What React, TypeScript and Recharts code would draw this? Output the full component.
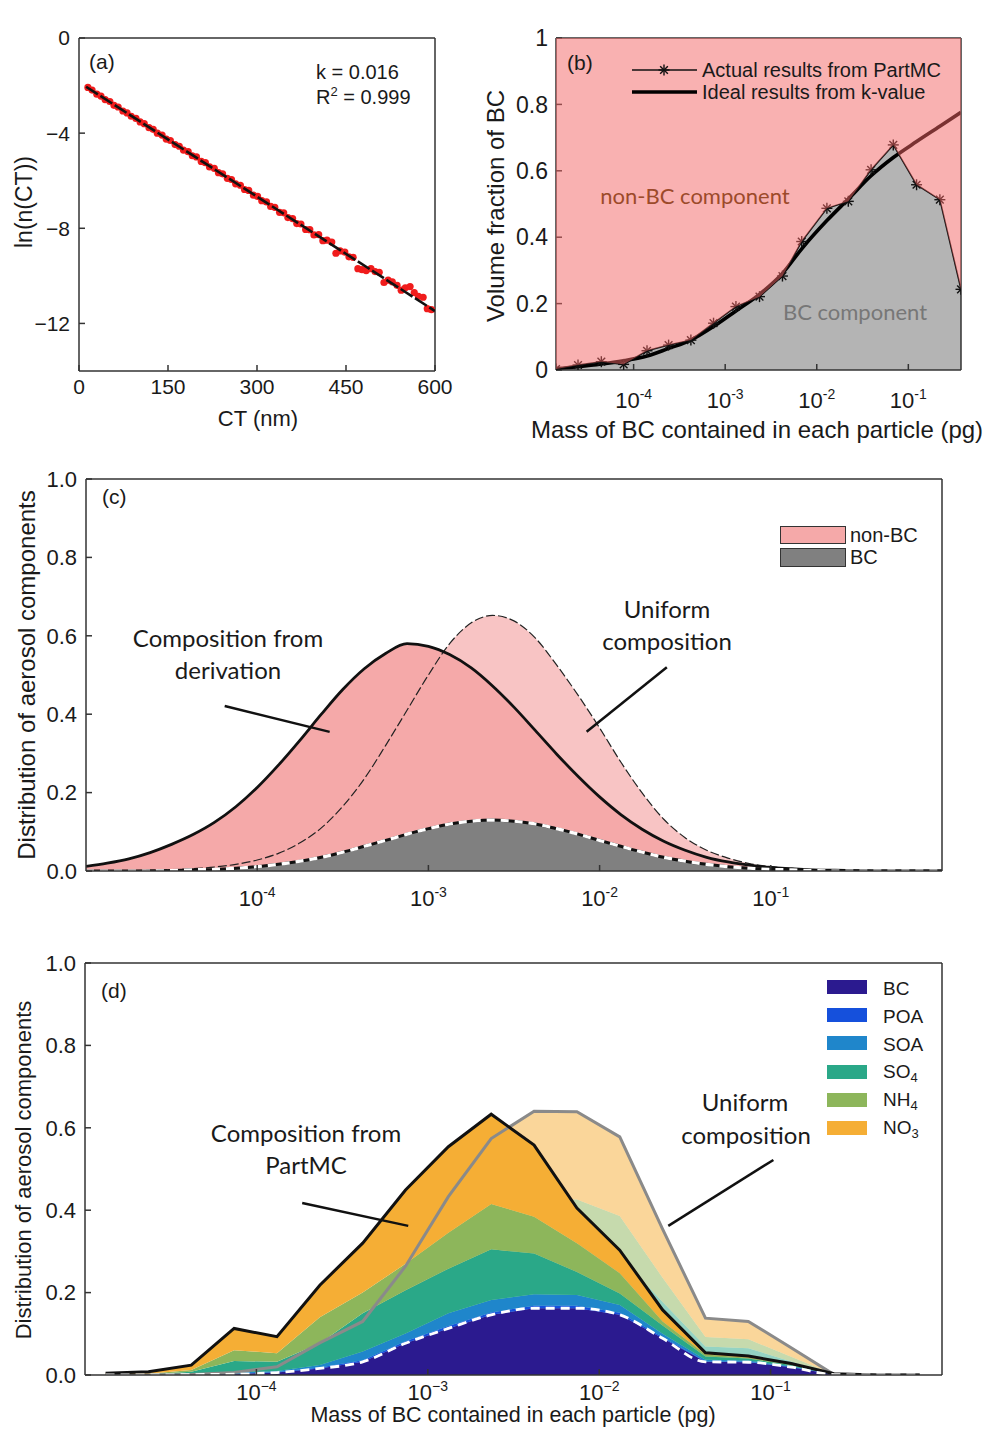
import React from 'react';
import { ComposedChart, Area, Line, Scatter, XAxis, YAxis, ReferenceLine } from 'recharts';

const ARIAL = '"Liberation Sans", Arial, sans-serif';
const CALIBRI = 'Lato, "Open Sans", sans-serif';
const TXT = '#1a1a1a';
const AX = '#333';

// (a) ln(n(CT)) vs CT
const ctValues = [15, 22, 30, 37, 44, 52, 59, 66, 74, 81, 88, 96, 103, 110, 118, 125, 132, 140, 147, 154,
  162, 169, 176, 184, 191, 198, 206, 213, 220, 228, 235, 242, 250, 257, 264, 272, 279, 286, 294, 301,
  308, 316, 323, 330, 338, 345, 352, 360, 367, 374, 382, 389, 396, 404, 411, 418, 426, 433, 440, 448,
  455, 462, 470, 477, 484, 492, 499, 506, 514, 521, 528, 536, 543, 550, 558, 565, 572, 580, 587, 594];
const lnValues = [-2.08, -2.19, -2.36, -2.44, -2.59, -2.67, -2.83, -2.9, -3.07, -3.15, -3.29, -3.38, -3.53, -3.6, -3.77, -3.84, -4.0, -4.08, -4.25, -4.31,
  -4.48, -4.55, -4.71, -4.78, -4.95, -5.0, -5.19, -5.24, -5.42, -5.48, -5.66, -5.71, -5.9, -5.95, -6.13, -6.19, -6.37, -6.41, -6.61, -6.66,
  -6.84, -6.89, -7.08, -7.12, -7.33, -7.35, -7.55, -7.59, -7.8, -7.82, -8.05, -8.06, -8.28, -8.27, -8.52, -8.5, -8.58, -9.05, -8.95, -9.0,
  -9.2, -9.22, -9.7, -9.74, -9.78, -9.7, -9.82, -9.85, -10.28, -10.18, -10.25, -10.4, -10.6, -10.5, -10.45, -10.7, -10.86, -10.9, -11.38, -11.42];
const fitCt = [12, 600];
const fitLn = [-2.05, -11.48];
const ctTicks = [0, 150, 300, 450, 600];
const lnTicks = [0, -4, -8, -12];

// (b) volume fraction of BC
const massB = [1.42e-5, 2.47e-5, 4.44e-5, 7.78e-5, 1.4e-4, 2.41e-4, 4.22e-4, 7.46e-4, 1.31e-3, 2.37e-3,
  4.22e-3, 6.85e-3, 1.29e-2, 2.21e-2, 3.92e-2, 6.85e-2, 0.123, 0.221, 0.376];
const actualB = [0.003, 0.015, 0.025, 0.017, 0.058, 0.075, 0.09, 0.141, 0.191, 0.221,
  0.283, 0.387, 0.487, 0.508, 0.603, 0.678, 0.558, 0.513, 0.243];
const idealB = [0.004, 0.01, 0.018, 0.028, 0.042, 0.065, 0.09, 0.131, 0.178, 0.228,
  0.291, 0.365, 0.45, 0.515, 0.585, 0.64, 0.688, 0.734, 0.776];
const decTicksB = [1e-4, 1e-3, 1e-2, 1e-1];
const nmLabels = ['47nm', '102nm', '220nm', '473nm'];

// (c) derived vs uniform composition
const massC = [1e-5, 1.33e-5, 1.78e-5, 2.37e-5, 3.16e-5, 4.22e-5, 5.62e-5, 7.5e-5,
  1e-4, 1.33e-4, 1.78e-4, 2.37e-4, 3.16e-4, 4.22e-4, 5.62e-4, 7.5e-4,
  1e-3, 1.33e-3, 1.78e-3, 2.37e-3, 3.16e-3, 4.22e-3, 5.62e-3, 7.5e-3,
  1e-2, 1.33e-2, 1.78e-2, 2.37e-2, 3.16e-2, 4.22e-2, 5.62e-2, 7.5e-2,
  0.1, 0.133, 0.178, 0.237, 0.316, 0.422, 0.562, 0.75, 1];
const derivC = [0.012, 0.02, 0.031, 0.047, 0.068, 0.093, 0.124, 0.164, 0.213, 0.27, 0.334, 0.4, 0.463, 0.516, 0.555, 0.58,
  0.573, 0.552, 0.518, 0.472, 0.418, 0.358, 0.298, 0.241, 0.189, 0.144, 0.106, 0.076, 0.053, 0.035, 0.023, 0.015,
  0.009, 0.006, 0.003, 0.002, 0.001, 0, 0, 0, 0];
const uniformC = [0, 0, 0.001, 0.002, 0.003, 0.006, 0.01, 0.017, 0.028, 0.045, 0.072, 0.11, 0.165, 0.235, 0.32, 0.41,
  0.5, 0.58, 0.633, 0.652, 0.638, 0.594, 0.525, 0.448, 0.365, 0.278, 0.198, 0.132, 0.085, 0.053, 0.033, 0.019,
  0.011, 0.006, 0.003, 0.002, 0.001, 0, 0, 0, 0];
const bcC = [0, 0, 0, 0, 0.001, 0.003, 0.004, 0.007, 0.011, 0.017, 0.025, 0.035, 0.048, 0.063, 0.078, 0.094,
  0.108, 0.12, 0.127, 0.13, 0.127, 0.12, 0.108, 0.094, 0.078, 0.063, 0.048, 0.035, 0.025, 0.017, 0.011, 0.007,
  0.004, 0.003, 0.001, 0, 0, 0, 0, 0, 0];
const decTicks = [1e-4, 1e-3, 1e-2, 1e-1];
const fracTicks = [0, 0.2, 0.4, 0.6, 0.8, 1];
const innerTicks = [0.2, 0.4, 0.6, 0.8];

// (d) PartMC components (stacked increments) and uniform composition
const massD = [1.318e-5, 2.344e-5, 4.169e-5, 7.413e-5, 1.318e-4, 2.344e-4, 4.169e-4, 7.413e-4, 1.318e-3, 2.344e-3,
  4.169e-3, 7.413e-3, 1.318e-2, 2.344e-2, 4.169e-2, 7.413e-2, 0.1318, 0.2344, 0.4169, 0.7413];
const bcD = [0, 0, 0.001, 0.002, 0.006, 0.016, 0.032, 0.077, 0.113, 0.146, 0.162, 0.162, 0.146, 0.089, 0.032, 0.031, 0.019, 0.001, 0, 0];
const poaD = [0, 0, 0, 0.001, 0.001, 0.002, 0.004, 0.005, 0.006, 0.006, 0.006, 0.006, 0.005, 0.003, 0.001, 0.001, 0.001, 0, 0, 0];
const soaD = [0, 0.001, 0.001, 0.003, 0.003, 0.006, 0.021, 0.019, 0.031, 0.03, 0.028, 0.026, 0.019, 0.008, 0.004, 0.003, 0.001, 0, 0, 0];
const so4D = [0.001, 0.001, 0.006, 0.028, 0.022, 0.053, 0.093, 0.105, 0.108, 0.123, 0.099, 0.056, 0.028, 0.02, 0.008, 0.005, 0.003, 0.001, 0, 0];
const nh4D = [0, 0.001, 0.004, 0.026, 0.021, 0.063, 0.05, 0.064, 0.087, 0.11, 0.089, 0.07, 0.049, 0.01, 0.005, 0.002, 0.002, 0, 0, 0];
const no3D = [0.003, 0.005, 0.012, 0.053, 0.04, 0.078, 0.12, 0.179, 0.209, 0.218, 0.174, 0.085, 0.056, 0.028, 0.004, 0.004, 0.002, 0.001, 0, 0];
const poaU = [0, 0, 0, 0, 0, 0.001, 0.001, 0.002, 0.004, 0.006, 0.006, 0.006, 0.006, 0.004, 0.001, 0.001, 0.001, 0, 0, 0];
const soaU = [0, 0, 0, 0, 0.001, 0.003, 0.005, 0.01, 0.017, 0.023, 0.026, 0.026, 0.023, 0.014, 0.006, 0.005, 0.003, 0, 0, 0];
const so4U = [0, 0, 0, 0.001, 0.003, 0.019, 0.027, 0.043, 0.083, 0.112, 0.126, 0.125, 0.114, 0.07, 0.03, 0.028, 0.01, 0, 0, 0];
const nh4U = [0, 0, 0, 0.001, 0.003, 0.013, 0.022, 0.044, 0.072, 0.096, 0.107, 0.107, 0.097, 0.059, 0.023, 0.022, 0.011, 0, 0, 0];
const no3U = [0, 0, 0, 0.002, 0.007, 0.026, 0.043, 0.088, 0.144, 0.191, 0.213, 0.213, 0.192, 0.118, 0.046, 0.043, 0.022, 0, 0, 0];

const species = [
  { key: 'bc', u: 'bc', name: 'BC', sub: '', color: '#2b1a8f' },
  { key: 'poa', u: 'upoa', name: 'POA', sub: '', color: '#1550dc' },
  { key: 'soa', u: 'usoa', name: 'SOA', sub: '', color: '#1f86cb' },
  { key: 'so4', u: 'uso4', name: 'SO', sub: '4', color: '#2aa888' },
  { key: 'nh4', u: 'unh4', name: 'NH', sub: '4', color: '#8db65b' },
  { key: 'no3', u: 'uno3', name: 'NO', sub: '3', color: '#f5ae35' },
];

const scatterA = ctValues.map((ct, i) => ({ ct, ln: lnValues[i] }));
const fitA = fitCt.map((ct, i) => ({ ct, ln: fitLn[i] }));
const dataB = massB.map((m, i) => ({ m, actual: actualB[i], ideal: idealB[i] }));
const dataC = massC.map((m, i) => ({ m, der: derivC[i], uni: uniformC[i], bc: bcC[i] }));
const dataD = massD.map((m, i) => ({
  m, bc: bcD[i], poa: poaD[i], soa: soaD[i], so4: so4D[i], nh4: nh4D[i], no3: no3D[i],
  upoa: poaU[i], usoa: soaU[i], uso4: so4U[i], unh4: nh4U[i], uno3: no3U[i],
}));

const axisLine = { stroke: AX, strokeWidth: 1.5 };
const tickLine = { stroke: AX, strokeWidth: 1.5 };

const PowTick = ({ x, y, value, size, sup, minus }: any) => {
  const e = Math.round(Math.log10(value));
  return (
    <text x={x} y={y} textAnchor="middle" fontFamily={ARIAL} fontSize={size} fill={TXT}>
      10<tspan dy={-size * 0.42} fontSize={sup}>{e < 0 ? minus + Math.abs(e) : e}</tspan>
    </text>
  );
};

const Star = ({ cx, cy, r = 5.5 }: any) => {
  const d = r * 0.7;
  return (
    <g stroke="#111" strokeWidth={1.4}>
      <line x1={cx - r} y1={cy} x2={cx + r} y2={cy} />
      <line x1={cx} y1={cy - r} x2={cx} y2={cy + r} />
      <line x1={cx - d} y1={cy - d} x2={cx + d} y2={cy + d} />
      <line x1={cx - d} y1={cy + d} x2={cx + d} y2={cy - d} />
    </g>
  );
};

const T = ({ x, y, children, size = 20, font = ARIAL, color = TXT, rotate = false, left = false }: any) => (
  <div
    style={{
      position: 'absolute', left: x, top: y, fontSize: size, fontFamily: font, color,
      whiteSpace: 'nowrap', lineHeight: 1,
      transform: `translate(${left ? '0' : '-50%'}, -50%)${rotate ? ' rotate(-90deg)' : ''}`,
    }}
  >
    {children}
  </div>
);

const frameX = (id: string, domain: any, ticks: number[], log: boolean) => (
  <XAxis xAxisId={id} orientation="top" type="number" scale={log ? 'log' : 'auto'} domain={domain} ticks={ticks}
    allowDataOverflow height={1} axisLine={axisLine} tickLine={tickLine} tickSize={-6} tick={false} interval={0} />
);
const frameY = (domain: any, ticks: number[]) => (
  <YAxis yAxisId="r" orientation="right" type="number" domain={domain} ticks={ticks}
    allowDataOverflow width={1} axisLine={axisLine} tickLine={tickLine} tickSize={-6} tick={false} interval={0} />
);

const PanelA = () => (
  <div style={{ position: 'absolute', left: 0, top: 0 }}>
    <ComposedChart width={460} height={440} margin={{ top: 37, right: 24, bottom: 0, left: 0 }}>
      <XAxis xAxisId="b" dataKey="ct" type="number" domain={[0, 600]} ticks={ctTicks} allowDataOverflow interval={0}
        height={69} axisLine={axisLine} tickLine={tickLine} tickSize={-6} tickMargin={14}
        tick={{ fill: TXT, fontSize: 21, fontFamily: ARIAL }} />
      {frameX('t', [0, 600], ctTicks, false)}
      <YAxis yAxisId="l" type="number" domain={[-14, 0]} ticks={lnTicks} allowDataOverflow interval={0}
        width={79} axisLine={axisLine} tickLine={tickLine} tickSize={-6} tickMargin={15}
        tick={{ fill: TXT, fontSize: 21, fontFamily: ARIAL }}
        tickFormatter={(v: number) => (v < 0 ? '\u2212' + Math.abs(v) : String(v))} />
      {frameY([-14, 0], lnTicks)}
      <Scatter xAxisId="b" yAxisId="l" data={scatterA} dataKey="ln" isAnimationActive={false}
        shape={(p: any) => <circle cx={p.cx} cy={p.cy} r={3.6} fill="#f01c1c" />} />
      <Line xAxisId="b" yAxisId="l" data={fitA} dataKey="ln" stroke="#111" strokeWidth={2.6} zIndex={800}
        strokeDasharray="14 3" dot={false} isAnimationActive={false} />
    </ComposedChart>
  </div>
);

const PanelB = () => (
  <div style={{ position: 'absolute', left: 470, top: 0 }}>
    <ComposedChart width={510} height={445} data={dataB} margin={{ top: 8, right: 18, bottom: 0, left: 0 }}>
      <XAxis xAxisId="b" dataKey="m" type="number" scale="log" domain={[1.42e-5, 0.376]} ticks={decTicksB}
        allowDataOverflow interval={0} height={75} axisLine={axisLine} tickLine={tickLine} tickSize={-6} tickMargin={44}
        tick={(p: any) => <PowTick x={p.x} y={p.y} value={p.payload.value} size={22} sup={14} minus="-" />} />
      <XAxis xAxisId="t" orientation="top" type="number" scale="log" domain={[1.42e-5, 0.376]} ticks={decTicksB}
        allowDataOverflow interval={0} height={30} axisLine={axisLine} tickLine={tickLine} tickSize={-6} tickMargin={18}
        tick={(p: any) => (
          <text x={p.x + [12, 6, 4, 4][p.index]} y={p.y} textAnchor="middle" fontFamily={ARIAL} fontSize={23} fill={TXT}>
            {nmLabels[p.index]}
          </text>
        )} />
      <YAxis yAxisId="l" type="number" domain={[0, 1]} ticks={fracTicks} allowDataOverflow interval={0}
        width={86} axisLine={axisLine} tickLine={tickLine} tickSize={-6} tickMargin={14}
        tick={{ fill: TXT, fontSize: 23, fontFamily: ARIAL }} />
      {frameY([0, 1], innerTicks)}
      <Area xAxisId="b" yAxisId="l" dataKey="actual" type="linear" fill="#b4b4b4" fillOpacity={1} stroke="none"
        isAnimationActive={false} />
      <Line xAxisId="b" yAxisId="l" dataKey="ideal" type="monotone" stroke="#000" strokeWidth={3.6} dot={false}
        isAnimationActive={false} />
      <Line xAxisId="b" yAxisId="l" dataKey="actual" type="linear" stroke="#111" strokeWidth={1.5}
        dot={(p: any) => <Star key={p.index} cx={p.cx} cy={p.cy} />} isAnimationActive={false} />
      <Area xAxisId="b" yAxisId="l" dataKey={(d: any) => [d.actual, 1]} type="linear" fill="rgb(243,99,99)"
        fillOpacity={0.5} stroke="none" zIndex={900} isAnimationActive={false} />
    </ComposedChart>
  </div>
);

const PanelC = () => (
  <div style={{ position: 'absolute', left: 0, top: 460 }}>
    <ComposedChart width={960} height={460} data={dataC} margin={{ top: 18, right: 17, bottom: 0, left: 0 }}>
      <XAxis xAxisId="b" dataKey="m" type="number" scale="log" domain={[1e-5, 1]} ticks={decTicks}
        allowDataOverflow interval={0} height={49} axisLine={axisLine} tickLine={tickLine} tickSize={-6} tickMargin={41}
        tick={(p: any) => <PowTick x={p.x} y={p.y} value={p.payload.value} size={22} sup={14} minus="-" />} />
      {frameX('t', [1e-5, 1], decTicks, true)}
      <YAxis yAxisId="l" type="number" domain={[0, 1]} ticks={fracTicks} allowDataOverflow interval={0}
        width={86} axisLine={axisLine} tickLine={tickLine} tickSize={-6} tickMargin={15}
        tick={{ fill: TXT, fontSize: 22, fontFamily: ARIAL }} tickFormatter={(v: number) => v.toFixed(1)} />
      {frameY([0, 1], innerTicks)}
      <Area xAxisId="b" yAxisId="l" dataKey="uni" type="monotone" fill="#f8c4c4" fillOpacity={1} stroke="none" isAnimationActive={false} />
      <Area xAxisId="b" yAxisId="l" dataKey="der" type="monotone" fill="#f5a9a9" fillOpacity={1} stroke="none" isAnimationActive={false} />
      <Area xAxisId="b" yAxisId="l" dataKey="bc" type="monotone" fill="#808080" fillOpacity={1} stroke="none" isAnimationActive={false} />
      <Line xAxisId="b" yAxisId="l" dataKey="uni" type="monotone" stroke="#222" strokeWidth={1.2} strokeDasharray="9 3"
        dot={false} isAnimationActive={false} />
      <Line xAxisId="b" yAxisId="l" dataKey="der" type="monotone" stroke="#111" strokeWidth={2.8} dot={false} isAnimationActive={false} />
      <Line xAxisId="b" yAxisId="l" dataKey="bc" type="monotone" stroke="#111" strokeWidth={3} dot={false} isAnimationActive={false} />
      <Line xAxisId="b" yAxisId="l" dataKey="bc" type="monotone" stroke="#fff" strokeWidth={3.2} strokeDasharray="8 6"
        dot={false} isAnimationActive={false} />
      <ReferenceLine xAxisId="b" yAxisId="l" segment={[{ x: 6.46e-5, y: 0.421 }, { x: 2.65e-4, y: 0.355 }]}
        stroke="#111" strokeWidth={2.5} ifOverflow="visible" />
      <ReferenceLine xAxisId="b" yAxisId="l" segment={[{ x: 2.47e-2, y: 0.52 }, { x: 8.4e-3, y: 0.355 }]}
        stroke="#111" strokeWidth={2.5} ifOverflow="visible" />
    </ComposedChart>
  </div>
);

const PanelD = () => (
  <div style={{ position: 'absolute', left: 0, top: 940 }}>
    <ComposedChart width={960} height={489} data={dataD} margin={{ top: 22, right: 17, bottom: 0, left: 0 }}>
      <XAxis xAxisId="b" dataKey="m" type="number" scale="log" domain={[1e-5, 1]} ticks={decTicks}
        allowDataOverflow interval={0} height={54} axisLine={axisLine} tickLine={tickLine} tickSize={-6} tickMargin={31}
        tick={(p: any) => <PowTick x={p.x} y={p.y} value={p.payload.value} size={22} sup={14} minus={'\u2212'} />} />
      {frameX('t', [1e-5, 1], decTicks, true)}
      <YAxis yAxisId="l" type="number" domain={[0, 1]} ticks={fracTicks} allowDataOverflow interval={0}
        width={85} axisLine={axisLine} tickLine={tickLine} tickSize={-6} tickMargin={15}
        tick={{ fill: TXT, fontSize: 22, fontFamily: ARIAL }} tickFormatter={(v: number) => v.toFixed(1)} />
      {frameY([0, 1], innerTicks)}
      {species.map((s) => (
        <Area key={'u' + s.key} xAxisId="b" yAxisId="l" dataKey={s.u} stackId="u" type="linear" fill={s.color}
          fillOpacity={0.5} stroke="none" isAnimationActive={false} />
      ))}
      {species.map((s) => (
        <Area key={'p' + s.key} xAxisId="b" yAxisId="l" dataKey={s.key} stackId="p" type="linear" fill={s.color}
          fillOpacity={1} stroke="none" isAnimationActive={false} />
      ))}
      <Line xAxisId="b" yAxisId="l" type="linear" stroke="#8a8a8a" strokeWidth={3} dot={false} isAnimationActive={false}
        dataKey={(d: any) => d.bc + d.upoa + d.usoa + d.uso4 + d.unh4 + d.uno3} />
      <Line xAxisId="b" yAxisId="l" type="linear" stroke="#111" strokeWidth={3} dot={false} isAnimationActive={false}
        dataKey={(d: any) => d.bc + d.poa + d.soa + d.so4 + d.nh4 + d.no3} />
      <Line xAxisId="b" yAxisId="l" dataKey="bc" type="monotone" stroke="#fff" strokeWidth={2.8} strokeDasharray="9 6"
        dot={false} isAnimationActive={false} />
      <ReferenceLine xAxisId="b" yAxisId="l" segment={[{ x: 1.85e-4, y: 0.4175 }, { x: 7.69e-4, y: 0.362 }]}
        stroke="#111" strokeWidth={2.5} ifOverflow="visible" />
      <ReferenceLine xAxisId="b" yAxisId="l" segment={[{ x: 0.1038, y: 0.522 }, { x: 2.53e-2, y: 0.362 }]}
        stroke="#111" strokeWidth={2.5} ifOverflow="visible" />
    </ComposedChart>
  </div>
);

const App = () => (
  <div style={{ position: 'absolute', left: 0, top: 0, width: 988, height: 1429, background: '#fff', overflow: 'hidden' }}>
    <PanelA />
    <PanelB />
    <PanelC />
    <PanelD />

    {/* (a) texts */}
    <T x={89} y={61} size={21} left>(a)</T>
    <T x={316} y={72} size={20} left>k = 0.016</T>
    <T x={316} y={96} size={20} left>R<sup style={{ fontSize: 13 }}>2</sup> = 0.999</T>
    <T x={258} y={419} size={22}>CT (nm)</T>
    <T x={24} y={202} size={23} rotate>ln(n(CT))</T>

    {/* (b) texts */}
    <T x={567} y={62} size={21} left>(b)</T>
    <T x={695} y={196} size={22} font={CALIBRI} color="#9c4a2a">non-BC component</T>
    <T x={855} y={312} size={22} font={CALIBRI} color="#777">BC component</T>
    <T x={496} y={206} size={24} rotate>Volume fraction of BC</T>
    <T x={757} y={430} size={24}>Mass of BC contained in each particle (pg)</T>
    <div style={{ position: 'absolute', left: 625, top: 58 }}>
      <svg width={340} height={46}>
        <line x1={7} y1={12} x2={72} y2={12} stroke="#111" strokeWidth={1.5} />
        <Star cx={39} cy={12} />
        <line x1={7} y1={34} x2={72} y2={34} stroke="#000" strokeWidth={3.6} />
        <text x={77} y={12} dominantBaseline="central" fontFamily={ARIAL} fontSize={20} fill={TXT}>Actual results from PartMC</text>
        <text x={77} y={34} dominantBaseline="central" fontFamily={ARIAL} fontSize={20} fill={TXT}>Ideal results from k-value</text>
      </svg>
    </div>

    {/* (c) texts */}
    <T x={102} y={496} size={21} left>(c)</T>
    <T x={228} y={638} size={24} font={CALIBRI}>Composition from</T>
    <T x={228} y={670} size={24} font={CALIBRI}>derivation</T>
    <T x={667} y={609} size={24} font={CALIBRI}>Uniform</T>
    <T x={667} y={641} size={24} font={CALIBRI}>composition</T>
    <T x={27} y={675} size={24} rotate>Distribution of aerosol components</T>
    <div style={{ position: 'absolute', left: 780, top: 526, width: 64, height: 16, background: '#f5a9a9', border: '1px solid #333' }} />
    <div style={{ position: 'absolute', left: 780, top: 548, width: 64, height: 17, background: '#808080', border: '1px solid #333' }} />
    <T x={850} y={535} size={20} left>non-BC</T>
    <T x={850} y={557} size={20} left>BC</T>

    {/* (d) texts */}
    <T x={101} y={990} size={21} left>(d)</T>
    <T x={306} y={1133} size={24} font={CALIBRI}>Composition from</T>
    <T x={306} y={1165} size={24} font={CALIBRI}>PartMC</T>
    <T x={745} y={1102} size={24} font={CALIBRI}>Uniform</T>
    <T x={746} y={1135} size={24} font={CALIBRI}>composition</T>
    <T x={24} y={1170} size={22} rotate>Distribution of aerosol components</T>
    <T x={513} y={1416} size={21.5}>Mass of BC contained in each particle (pg)</T>
    {species.map((s, i) => (
      <React.Fragment key={s.key}>
        <div style={{ position: 'absolute', left: 827, top: 980 + i * 28.2, width: 40, height: 14, background: s.color }} />
        <T x={883} y={988 + i * 28.2} size={19} left>
          {s.name}
          {s.sub && <sub style={{ fontSize: 13, verticalAlign: '-0.25em' }}>{s.sub}</sub>}
        </T>
      </React.Fragment>
    ))}
  </div>
);

export default App;
